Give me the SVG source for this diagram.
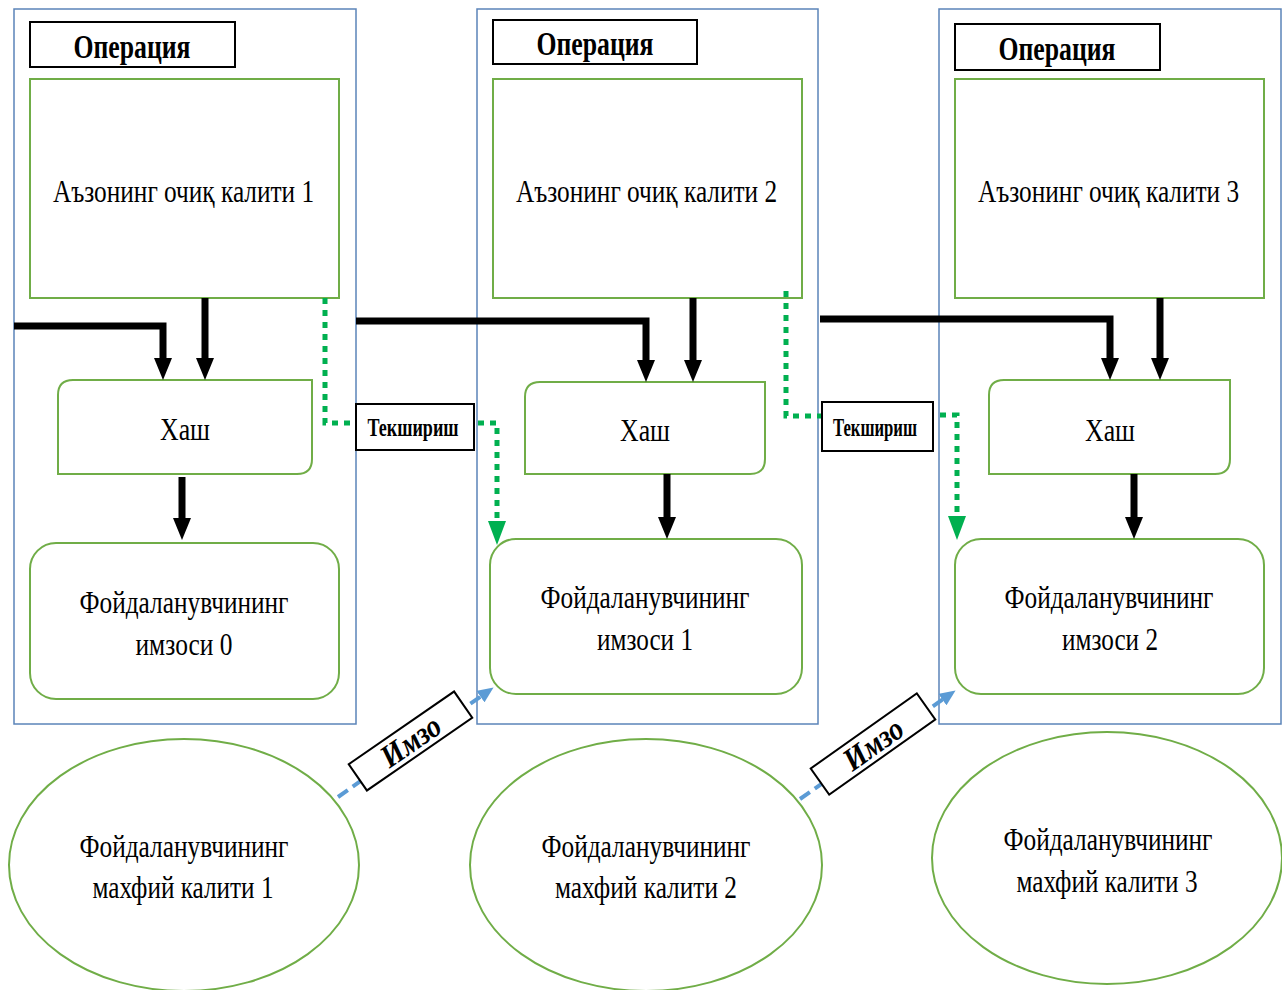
<svg xmlns="http://www.w3.org/2000/svg" width="1282" height="990" viewBox="0 0 1282 990">
<defs>
<style>
text{font-family:"Liberation Serif","Times New Roman",serif;fill:#000;text-anchor:middle}
.t{font-size:31px}
.op{font-size:34px;font-weight:bold}
.chk{font-size:25px;font-weight:bold}
.im{font-size:32px;font-weight:bold;font-style:italic}
.cont{fill:#fff;stroke:#5b84b9;stroke-width:1.5}
.lbl{fill:#fff;stroke:#000;stroke-width:2}
.g{fill:#fff;stroke:#70ad47;stroke-width:2}
.blk{fill:none;stroke:#000;stroke-width:7;marker-end:url(#ab)}
.grn{fill:none;stroke:#00b050;stroke-width:5;stroke-dasharray:6 6;marker-end:url(#ag)}
.grn0{fill:none;stroke:#00b050;stroke-width:5;stroke-dasharray:6 6}
.blu{fill:none;stroke:#5b9bd5;stroke-width:4;stroke-dasharray:12 6;marker-end:url(#abl)}
</style>
<marker id="ab" markerUnits="userSpaceOnUse" markerWidth="22" markerHeight="18" refX="12" refY="9" orient="auto"><path d="M0,0 L22,9 L0,18 z" fill="#000"/></marker>
<marker id="ag" markerUnits="userSpaceOnUse" markerWidth="24" markerHeight="18" refX="12" refY="9" orient="auto"><path d="M0,0 L24,9 L0,18 z" fill="#00b050"/></marker>
<marker id="abl" markerUnits="userSpaceOnUse" markerWidth="16" markerHeight="14" refX="8" refY="7" orient="auto"><path d="M0,0 L16,7 L0,14 z" fill="#5b9bd5"/></marker>
</defs>
<rect width="1282" height="990" fill="#fff"/>

<g id="container1"><rect class="cont" x="14" y="9" width="342" height="715"/></g>
<g id="container2"><rect class="cont" x="477" y="9" width="341" height="715"/></g>
<g id="container3"><rect class="cont" x="939" y="9" width="342" height="715"/></g>

<g id="op1"><rect class="lbl" x="30" y="22" width="205" height="45"/><text class="op" x="132" y="58" textLength="117" lengthAdjust="spacingAndGlyphs">Операция</text></g>
<g id="op2"><rect class="lbl" x="493" y="20" width="204" height="44"/><text class="op" x="595" y="55" textLength="117" lengthAdjust="spacingAndGlyphs">Операция</text></g>
<g id="op3"><rect class="lbl" x="955" y="24" width="205" height="46"/><text class="op" x="1057" y="60" textLength="117" lengthAdjust="spacingAndGlyphs">Операция</text></g>

<g id="pk1"><rect class="g" x="30" y="79" width="309" height="219"/><text class="t" transform="translate(183.5,202) scale(0.84,1)" textLength="311" lengthAdjust="spacingAndGlyphs">Аъзонинг очиқ калити 1</text></g>
<g id="pk2"><rect class="g" x="493" y="79" width="309" height="219"/><text class="t" transform="translate(646.5,202) scale(0.84,1)" textLength="311" lengthAdjust="spacingAndGlyphs">Аъзонинг очиқ калити 2</text></g>
<g id="pk3"><rect class="g" x="955" y="79" width="309" height="219"/><text class="t" transform="translate(1108.5,202) scale(0.84,1)" textLength="311" lengthAdjust="spacingAndGlyphs">Аъзонинг очиқ калити 3</text></g>

<g id="hash1"><path class="g" d="M73,380 H312 V459 Q312,474 297,474 H58 V395 Q58,380 73,380 Z"/><text class="t" x="185" y="440" textLength="50" lengthAdjust="spacingAndGlyphs">Хаш</text></g>
<g id="hash2"><path class="g" d="M540,382 H765 V459 Q765,474 750,474 H525 V397 Q525,382 540,382 Z"/><text class="t" x="645" y="441" textLength="50" lengthAdjust="spacingAndGlyphs">Хаш</text></g>
<g id="hash3"><path class="g" d="M1004,380 H1230 V459 Q1230,474 1215,474 H989 V395 Q989,380 1004,380 Z"/><text class="t" x="1110" y="441" textLength="50" lengthAdjust="spacingAndGlyphs">Хаш</text></g>

<g id="sig0"><rect class="g" x="30" y="543" width="309" height="156" rx="26"/><text class="t" x="184" y="613" textLength="209" lengthAdjust="spacingAndGlyphs">Фойдаланувчининг</text><text class="t" x="184" y="655" textLength="97" lengthAdjust="spacingAndGlyphs">имзоси 0</text></g>
<g id="sig1"><rect class="g" x="490" y="539" width="312" height="155" rx="26"/><text class="t" x="645" y="608" textLength="209" lengthAdjust="spacingAndGlyphs">Фойдаланувчининг</text><text class="t" x="645" y="650" textLength="96" lengthAdjust="spacingAndGlyphs">имзоси 1</text></g>
<g id="sig2"><rect class="g" x="955" y="539" width="309" height="155" rx="26"/><text class="t" x="1109" y="608" textLength="209" lengthAdjust="spacingAndGlyphs">Фойдаланувчининг</text><text class="t" x="1110" y="650" textLength="96" lengthAdjust="spacingAndGlyphs">имзоси 2</text></g>

<g id="sk1"><ellipse class="g" cx="184" cy="865" rx="175" ry="126"/><text class="t" x="184" y="857" textLength="209" lengthAdjust="spacingAndGlyphs">Фойдаланувчининг</text><text class="t" x="183" y="898" textLength="181" lengthAdjust="spacingAndGlyphs">махфий калити 1</text></g>
<g id="sk2"><ellipse class="g" cx="646" cy="865" rx="176" ry="126"/><text class="t" x="646" y="857" textLength="209" lengthAdjust="spacingAndGlyphs">Фойдаланувчининг</text><text class="t" x="646" y="898" textLength="182" lengthAdjust="spacingAndGlyphs">махфий калити 2</text></g>
<g id="sk3"><ellipse class="g" cx="1107" cy="858" rx="175" ry="126"/><text class="t" x="1108" y="850" textLength="209" lengthAdjust="spacingAndGlyphs">Фойдаланувчининг</text><text class="t" x="1107" y="892" textLength="181" lengthAdjust="spacingAndGlyphs">махфий калити 3</text></g>

<g id="connectors">
<path class="blk" d="M14,326 H163 V370"/>
<path class="blk" d="M205,298 V370"/>
<path class="blk" d="M182,477 V530"/>
<path class="blk" d="M356,321 H646 V372"/>
<path class="blk" d="M693,298 V372"/>
<path class="blk" d="M667,474 V529"/>
<path class="blk" d="M820,319 H1110 V370"/>
<path class="blk" d="M1160,298 V370"/>
<path class="blk" d="M1134,474 V529"/>
<path class="grn0" d="M325,298 V423 H356"/>
<path class="grn" d="M478,423 H497 V533"/>
<path class="grn0" d="M786,291 V416 H822"/>
<path class="grn" d="M940,415 H957 V528"/>
<path class="blu" d="M338,797 L487,692"/>
<path class="blu" d="M800,799 L949,695"/>
</g>

<g id="chk1"><rect class="lbl" x="356" y="404" width="118" height="46"/><text class="chk" x="413" y="436" textLength="91" lengthAdjust="spacingAndGlyphs">Текшириш</text></g>
<g id="chk2"><rect class="lbl" x="822" y="402" width="111" height="49"/><text class="chk" x="875" y="436" textLength="84" lengthAdjust="spacingAndGlyphs">Текшириш</text></g>

<g id="imzo1" transform="translate(410.5,741) rotate(-34.6)"><rect class="lbl" x="-64" y="-16" width="128" height="32"/><text class="im" x="0" y="11" textLength="66" lengthAdjust="spacingAndGlyphs">Имзо</text></g>
<g id="imzo2" transform="translate(873,744) rotate(-35.3)"><rect class="lbl" x="-65" y="-16" width="130" height="32"/><text class="im" x="0" y="11" textLength="66" lengthAdjust="spacingAndGlyphs">Имзо</text></g>
</svg>
